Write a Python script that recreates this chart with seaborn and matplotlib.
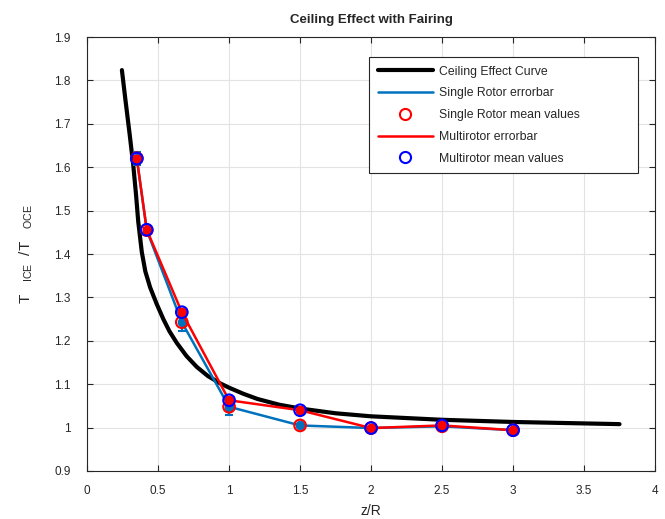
import numpy as np
import pandas as pd
import matplotlib
matplotlib.use("Agg")
import matplotlib.pyplot as plt
import seaborn as sns
from matplotlib.lines import Line2D
from matplotlib.ticker import FormatStrFormatter, MultipleLocator

# Ceiling effect model curve (z/R vs thrust ratio)
curve_x = [0.245, 0.27, 0.30, 0.325, 0.345, 0.36, 0.385, 0.41, 0.444, 0.49,
           0.537, 0.58, 0.632, 0.70, 0.772, 0.85, 0.937, 1.0, 1.1, 1.2,
           1.35, 1.5, 1.75, 2.0, 2.5, 3.0, 3.75]
curve_y = [1.824, 1.755, 1.675, 1.605, 1.535, 1.475, 1.405, 1.360, 1.323,
           1.285, 1.250, 1.222, 1.195, 1.165, 1.140, 1.119, 1.102, 1.092,
           1.078, 1.066, 1.053, 1.044, 1.033, 1.026, 1.018, 1.013, 1.008]

# Measured heights z/R
z_r = [0.35, 0.42, 0.667, 1.0, 1.5, 2.0, 2.5, 3.0]

# Single rotor measurements
single_mean = [1.621, 1.455, 1.243, 1.048, 1.005, 0.999, 1.003, 0.994]
single_err = [0.015, 0.005, 0.020, 0.020, 0.003, 0.003, 0.003, 0.003]

# Multirotor measurements
multi_mean = [1.620, 1.456, 1.266, 1.063, 1.040, 0.999, 1.005, 0.994]
multi_err = [0.005, 0.004, 0.004, 0.004, 0.003, 0.003, 0.003, 0.003]

sns.set_theme(style="whitegrid")
plt.rcParams["font.family"] = ["Liberation Sans", "DejaVu Sans"]
plt.rcParams["mathtext.fontset"] = "custom"
plt.rcParams["mathtext.rm"] = "Liberation Sans"
plt.rcParams["mathtext.it"] = "Liberation Sans"

fig = plt.figure(figsize=(6.65, 5.19), dpi=100)
ax = fig.add_axes([0.131, 0.0925, 0.854, 0.836])

blue = "#0072BD"
red = "#FF0000"

curve_df = pd.DataFrame({"x": curve_x, "y": curve_y})
sns.lineplot(data=curve_df, x="x", y="y", ax=ax, color="black", lw=3.0,
             sort=False, zorder=3)

# Single rotor error bars with filled dots
ax.errorbar(z_r, single_mean, yerr=single_err, color=blue, lw=1.8,
            marker="o", ms=6, mfc=blue, mec=blue, capsize=3, capthick=1.5,
            elinewidth=1.5, zorder=4)
# Multirotor error bars with filled dots
ax.errorbar(z_r, multi_mean, yerr=multi_err, color=red, lw=1.8,
            marker="o", ms=6, mfc=red, mec=red, capsize=3, capthick=1.5,
            elinewidth=1.5, zorder=5)

single_df = pd.DataFrame({"x": z_r, "y": single_mean})
multi_df = pd.DataFrame({"x": z_r, "y": multi_mean})
sns.scatterplot(data=single_df, x="x", y="y", ax=ax, marker="o", s=70,
                facecolor="none", edgecolor=red, linewidth=1.5, zorder=6)
sns.scatterplot(data=multi_df, x="x", y="y", ax=ax, marker="o", s=70,
                facecolor="none", edgecolor="#0000FF", linewidth=1.5, zorder=7)

ax.set_xlim(0, 4)
ax.set_ylim(0.9, 1.9)
ax.xaxis.set_major_locator(MultipleLocator(0.5))
ax.yaxis.set_major_locator(MultipleLocator(0.1))
ax.xaxis.set_major_formatter(FormatStrFormatter("%g"))
ax.yaxis.set_major_formatter(FormatStrFormatter("%g"))

ax.set_facecolor("white")
ax.grid(True, color="#e3e3e3", lw=0.8)
for s in ax.spines.values():
    s.set_color("#262626")
    s.set_linewidth(0.8)
ax.tick_params(axis="both", direction="in", length=4, width=0.8,
               colors="#262626", labelsize=8.5,
               top=True, right=True, bottom=True, left=True)
ax.tick_params(axis="x", pad=10)
ax.tick_params(axis="y", pad=12)

ax.set_title("Ceiling Effect with Fairing", fontsize=9.5, fontweight="bold",
             pad=10)
ax.set_xlabel("z/R", fontsize=10, labelpad=5)
ax.set_ylabel(r"T   $_{\mathrm{ICE}}$  /T   $_{\mathrm{OCE}}$",
              fontsize=11, labelpad=14)

handles = [
    Line2D([], [], color="black", lw=3.0),
    Line2D([], [], color=blue, lw=1.8),
    Line2D([], [], ls="none", marker="o", ms=8, mfc="none", mec=red, mew=1.5),
    Line2D([], [], color=red, lw=1.8),
    Line2D([], [], ls="none", marker="o", ms=8, mfc="none", mec="#0000FF",
           mew=1.5),
]
labels = ["Ceiling Effect Curve", "Single Rotor errorbar",
          "Single Rotor mean values", "Multirotor errorbar",
          "Multirotor mean values"]
leg = ax.legend(handles, labels, loc="upper left",
                bbox_to_anchor=(0.4965, 0.680, 0.4735, 0.274), mode="expand",
                fontsize=8.8, frameon=True,
                fancybox=False, edgecolor="#262626", framealpha=1,
                handlelength=4.5, borderpad=0.7, labelspacing=0.8,
                handletextpad=0.5, borderaxespad=0)
leg.get_frame().set_linewidth(0.8)

fig.savefig("out.png", dpi=100)
